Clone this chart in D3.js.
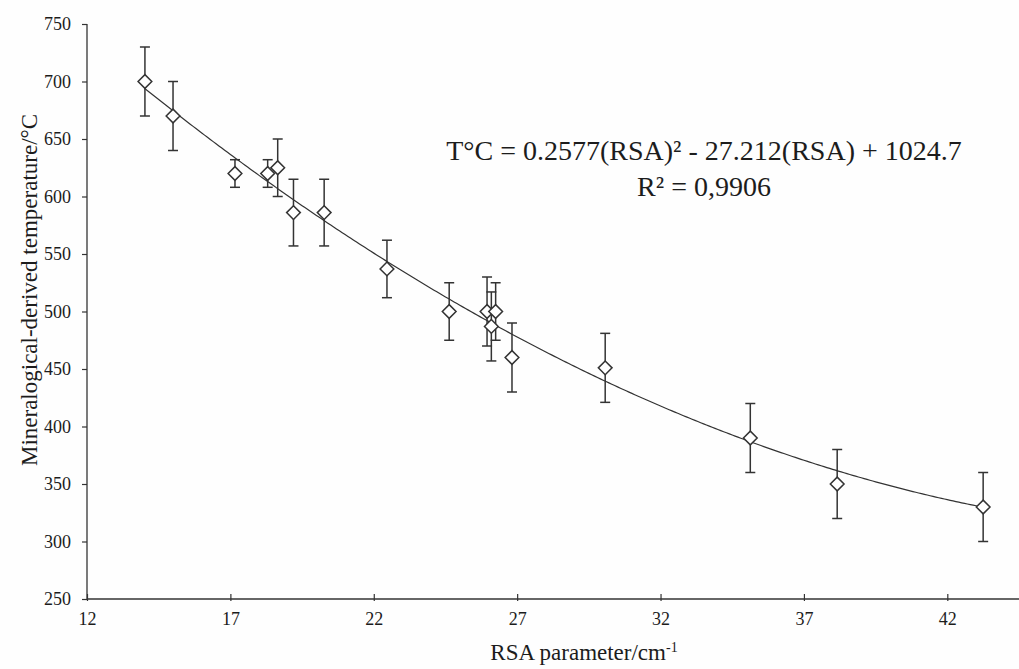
<!DOCTYPE html>
<html><head><meta charset="utf-8">
<script src="https://cdn.jsdelivr.net/npm/d3@7"></script>
<style>
html,body{margin:0;padding:0;background:#fefefe;}
svg{display:block;}
text{font-family:"Liberation Serif","Tinos","Times New Roman","DejaVu Serif",serif !important;}
.tick text{font-size:18px !important;}
</style></head>
<body>
<svg id="chart" width="1019" height="669"></svg>
<script>
// Data
const rsa  = [14.02, 15.0, 17.16, 18.3, 18.65, 19.2, 20.27, 22.46, 24.63, 25.95, 26.1, 26.25, 26.82, 30.07, 35.13, 38.16, 43.25];
const temp = [700, 670, 620, 620, 625, 586, 586, 537, 500, 500, 487, 500, 460, 451, 390, 350, 330];
const err  = [30, 30, 12, 12, 25, 29, 29, 25, 25, 30, 30, 25, 30, 30, 30, 30, 30];
const xTicks = [12, 17, 22, 27, 32, 37, 42];
const yTicks = [250, 300, 350, 400, 450, 500, 550, 600, 650, 700, 750];
const fitA = 0.2577, fitB = -27.212, fitC = 1024.7;
const fitRange = [14.0, 43.3];
const eqText = "T°C = 0.2577(RSA)² - 27.212(RSA) + 1024.7";
const r2Text = "R² = 0,9906";

const FONT = "'Liberation Serif', Tinos, 'Times New Roman', 'DejaVu Serif', serif";
const svg = d3.select("#chart").attr("font-family", FONT);
const x = d3.scaleLinear().domain([12, 44.5]).range([87, 1019]);
const y = d3.scaleLinear().domain([250, 750]).range([599, 24]);
const ink = "#333";
const txt = "#1c1c1c";

// Axes
const yAxis = svg.append("g").attr("transform", "translate(87,0)")
  .call(d3.axisLeft(y).tickValues(yTicks).tickSize(5).tickPadding(11).tickFormat(d3.format("d")));
const xAxis = svg.append("g").attr("transform", "translate(0,599)")
  .call(d3.axisBottom(x).tickValues(xTicks).tickSize(-5).tickPadding(13).tickFormat(d3.format("d")));
[yAxis, xAxis].forEach(g => {
  g.attr("font-family", FONT).attr("font-size", 18);
  g.select(".domain").attr("stroke", ink).attr("stroke-width", 1.3);
  g.selectAll(".tick line").attr("stroke", ink).attr("stroke-width", 1.2);
  g.selectAll(".tick text").attr("fill", txt).attr("font-size", 18);
});
xAxis.selectAll(".tick").append("line").attr("y1", 0).attr("y2", 2).attr("stroke", ink).attr("stroke-width", 1.2);
yAxis.select(".domain").attr("d", "M0,599V24");
xAxis.select(".domain").attr("d", "M87,0H1019");

// Trendline
const fx = d3.range(fitRange[0], fitRange[1] + 0.001, 0.1);
svg.append("path")
  .datum(fx)
  .attr("fill", "none").attr("stroke", ink).attr("stroke-width", 1.2)
  .attr("d", d3.line().x(d => x(d)).y(d => y(fitA * d * d + fitB * d + fitC)));

// Error bars
const pts = rsa.map((r, i) => ({r, t: temp[i], e: err[i]}));
const eb = svg.append("g").attr("stroke", ink).attr("stroke-width", 1.5);
pts.forEach(p => {
  const cx = x(p.r);
  eb.append("line").attr("x1", cx).attr("x2", cx).attr("y1", y(p.t + p.e)).attr("y2", y(p.t - p.e));
  [p.t + p.e, p.t - p.e].forEach(v => {
    eb.append("line").attr("x1", cx - 5).attr("x2", cx + 5).attr("y1", y(v)).attr("y2", y(v));
  });
});

// Diamond markers
const sym = d3.symbol().type(d3.symbolDiamond2).size(120);
svg.append("g").selectAll("path").data(pts).join("path")
  .attr("transform", d => `translate(${x(d.r)},${y(d.t)})`)
  .attr("d", sym)
  .attr("fill", "#fff").attr("stroke", ink).attr("stroke-width", 1.5);

// Equation text
svg.append("text").attr("x", 704).attr("y", 160).attr("text-anchor", "middle")
  .style("font-size", "28px").attr("fill", txt).text(eqText);
svg.append("text").attr("x", 704).attr("y", 196).attr("text-anchor", "middle")
  .style("font-size", "28px").attr("fill", txt).text(r2Text);

// Axis titles
svg.append("text").attr("transform", "translate(37,290) rotate(-90)").attr("text-anchor", "middle")
  .style("font-size", "23px").attr("fill", txt).text("Mineralogical-derived temperature/°C");
const xt = svg.append("text").attr("x", 584).attr("y", 660).attr("text-anchor", "middle")
  .style("font-size", "23px").attr("fill", txt);
xt.append("tspan").text("RSA parameter/cm");
xt.append("tspan").attr("dy", -8).style("font-size", "14px").text("-1");
</script>
</body></html>
